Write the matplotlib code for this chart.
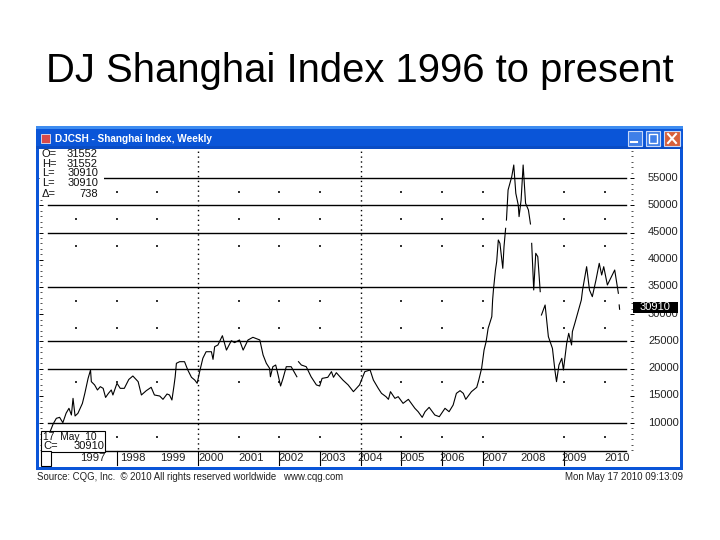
import numpy as np
import matplotlib
matplotlib.use("Agg")
import matplotlib.pyplot as plt
from matplotlib.patches import Rectangle
from matplotlib.ticker import FixedLocator, MultipleLocator
from matplotlib.transforms import ScaledTranslation

plt.rcParams['font.family'] = ['Liberation Sans', 'DejaVu Sans']

nan = float('nan')
years = [1996.37,1996.44,1996.52,1996.60,1996.68,1996.76,1996.83,1996.89,1996.93,1996.98,
 1997.05,1997.16,1997.22,1997.30,1997.36,1997.38,1997.46,1997.53,1997.60,1997.67,1997.73,1997.80,1997.87,1997.91,
 1998.01,1998.09,1998.19,1998.30,1998.40,1998.53,1998.61,1998.73,1998.85,1998.93,
 1999.06,1999.14,1999.24,1999.30,1999.36,1999.41,1999.44,1999.47,1999.55,1999.67,1999.75,1999.84,1999.92,1999.98,
 2000.04,2000.12,2000.20,2000.33,2000.37,2000.41,2000.49,2000.60,2000.70,2000.82,2000.90,
 2001.02,2001.11,2001.23,2001.35,2001.52,2001.60,2001.68,2001.76,2001.78,2001.84,2001.91,2001.97,
 2002.03,2002.09,2002.17,2002.29,2002.43,2002.45,2002.47,2002.54,2002.66,2002.78,2002.91,2002.99,
 2003.05,2003.19,2003.28,2003.33,2003.40,2003.56,2003.69,2003.82,2003.97,
 2004.10,2004.23,2004.31,2004.43,2004.51,2004.62,2004.68,2004.73,2004.84,2004.92,
 2005.04,2005.17,2005.33,2005.41,2005.51,2005.58,2005.68,2005.82,2005.93,
 2006.07,2006.17,2006.27,2006.35,2006.44,2006.52,2006.58,2006.72,2006.85,2006.90,2006.97,
 2007.03,2007.08,2007.13,2007.22,2007.24,2007.26,2007.31,2007.34,2007.38,2007.42,2007.49,2007.52,2007.56,2007.57,
 2007.58,2007.62,2007.71,2007.76,2007.81,2007.87,2007.89,2007.94,2007.99,
 2008.05,2008.12,2008.17,2008.185,2008.20,2008.25,2008.30,2008.35,2008.41,2008.425,2008.44,2008.53,2008.61,2008.71,2008.77,2008.81,2008.87,2008.94,2008.98,
 2009.06,2009.11,2009.18,2009.20,2009.26,2009.34,2009.42,2009.45,2009.55,2009.62,2009.69,2009.78,2009.86,2009.92,2009.97,
 2010.06,2010.24,2010.33,2010.34,2010.35,2010.36]
values = [8470,9800,10860,11040,10060,11800,12700,11470,14530,11290,
 11780,13600,15450,18200,19740,17600,17000,16070,16680,16370,14700,15450,16070,15150,
 17300,16370,16370,18000,18640,17600,15150,15940,16560,15150,
 14960,14350,15330,15150,14230,16800,18500,20970,21270,21270,19740,18400,17900,17300,
 19400,21900,23100,23100,21700,24030,24340,26050,23400,25130,24770,
 25260,23400,25260,25750,25260,22500,20970,20050,18500,20350,20660,18800,
 16800,18200,20350,20350,18500,nan,21270,20660,20350,18500,17000,16800,
 18200,18400,19440,18400,19250,17900,17000,15760,17000,
 19440,19740,17900,16370,15450,14840,14350,15760,14530,14840,
 13610,14350,12700,12080,11040,12080,12880,11470,11160,
 12700,12080,13300,15450,15940,15450,14350,15760,16560,17900,20050,
 23420,24950,27400,29550,32600,34450,38120,39650,43640,43020,38430,42410,45780,nan,
 47300,52830,55280,57420,52210,50070,47930,50990,57420,
 50380,49150,46580,nan,43020,34450,41190,40570,34140,nan,29850,31690,25870,23720,19740,17600,20660,21890,19740,
 24640,26480,24340,26790,28320,30460,32610,34450,38730,34450,33220,36290,39350,37200,38730,
 35370,38120,33840,nan,31700,30910]

grid_levels = [10000, 20000, 25000, 35000, 45000, 50000, 55000]
dot_levels = [7500, 17500, 27500, 32500, 42500, 47500, 52500]
dot_years = [1997, 1998, 1999, 2001, 2002, 2003, 2005, 2006, 2007, 2009, 2010]
dotted_years = [2000, 2004]
sep_years = [1998, 2000, 2002, 2003, 2004, 2005, 2006, 2007, 2009]
year_labels = ['1997','1998','1999','2000','2001','2002','2003','2004','2005','2006','2007','2008','2009','2010']
year_pos = [1997.42,1998.40,1999.38,2000.33,2001.31,2002.29,2003.33,2004.24,2005.27,2006.25,2007.30,2008.24,2009.25,2010.30]
right_ticks = [10000,15000,20000,25000,30000,35000,40000,45000,50000,55000]
last_price = 30910
header_names = ['O=','H=','L=','L=','Δ=']
header_vals = ['31552','31552','30910','30910','738']

W, H = 720, 540
fig = plt.figure(figsize=(7.2, 5.4), dpi=100, facecolor='white')

bg = fig.add_axes([0, 0, 1, 1], zorder=0)
bg.set_xlim(0, W); bg.set_ylim(H, 0); bg.axis('off')
blue = '#0A55D8'
bg.add_patch(Rectangle((36, 126), 647, 344, fc=blue, ec='none'))
bg.add_patch(Rectangle((36, 126), 647, 3, fc='#3E8CF0', ec='none'))
bg.add_patch(Rectangle((36, 146), 647, 3, fc='#0A4CC4', ec='none'))
bg.add_patch(Rectangle((39, 149), 641, 318, fc='white', ec='none'))
bg.add_patch(Rectangle((41, 134), 9, 9, fc='#D84A4A', ec='white', lw=0.5))
bg.text(55, 138.5, 'DJCSH - Shanghai Index, Weekly', color='white', fontsize=7.2,
        fontweight='bold', va='center', ha='left')
for x0, w, col in [(628, 14, '#3F7FE8'), (646, 14, '#3F7FE8'), (664, 16, '#D8603A')]:
    bg.add_patch(Rectangle((x0, 131), w, 15, fc=col, ec='#C8D8F8', lw=0.8))
bg.plot([631, 637], [142, 142], color='white', lw=1.5)
bg.add_patch(Rectangle((649, 134), 8, 9, fc='none', ec='white', lw=1))
bg.plot([668, 676], [134, 143], color='white', lw=1.5)
bg.plot([668, 676], [143, 134], color='white', lw=1.5)

fig.text(360 / W, 1 - 71 / H, 'DJ Shanghai Index 1996 to present', fontsize=28.8,
         ha='center', va='center', color='black')
fig.text(37 / W, 1 - 477.5 / H, 'Source: CQG, Inc.  © 2010 All rights reserved worldwide   www.cqg.com',
         fontsize=6.9, ha='left', va='center', color='#222222')
fig.text(683 / W, 1 - 477.5 / H, 'Mon May 17 2010 09:13:09', fontsize=7,
         ha='right', va='center', color='#222222')

left, right, top, bottom = 41, 632, 150, 451
ax = fig.add_axes([left / W, 1 - bottom / H, (right - left) / W, (bottom - top) / H], zorder=1)
ax.patch.set_alpha(0)
ax.set_xlim(1996.143, 2010.665)
ax.set_ylim(4854, 60177)
for s in ax.spines.values():
    s.set_visible(False)

xform = ax.get_yaxis_transform()
gx0, gx1 = (48 - left) / (right - left), (626 - left) / (right - left)
for lv in grid_levels:
    ax.plot([gx0, gx1], [lv, lv], transform=xform, color='black', lw=1.0, zorder=1)
ax.plot([gx0, gx1], [4904, 4904], transform=xform, color='black', lw=1.0, zorder=1, clip_on=False)
for yr in dotted_years:
    ax.plot([yr, yr], [5200, 60100], color='black', lw=1, ls=(0, (1, 2.5)), zorder=1)
dx, dy = np.meshgrid(dot_years, dot_levels)
ax.scatter(dx.ravel(), dy.ravel(), s=1.6, color='#333333', marker='s', linewidths=0, zorder=1)

ax.plot(years, values, color='black', lw=0.8, zorder=3)

ax.yaxis.tick_right()
ax.yaxis.set_major_locator(FixedLocator(right_ticks))
ax.yaxis.set_minor_locator(MultipleLocator(1000))
ax.set_yticklabels([str(v) for v in right_ticks], fontsize=8, color='#222222')
ax.tick_params(axis='y', which='major', length=3, width=0.7, pad=10, direction='inout', color='black')
ax.tick_params(axis='y', which='minor', length=2, width=0.6, direction='inout', color='#333333')
ax.tick_params(axis='y', which='both', left=True, right=True)
ax.set_xticks([])
shift = ScaledTranslation(0, 1.5 / 100, fig.dpi_scale_trans)
for lab in ax.get_yticklabels():
    lab.set_transform(lab.get_transform() + shift)

trans = ax.get_xaxis_transform()
for yr in sep_years:
    ax.plot([yr, yr], [0, -0.045], transform=trans, color='black', lw=0.8, clip_on=False, zorder=2)
for p, lab in zip(year_pos, year_labels):
    ax.text(p, -0.024, lab, transform=trans, fontsize=8.2, ha='center', va='center', color='#222222')

fg = fig.add_axes([0, 0, 1, 1], zorder=2)
fg.set_xlim(0, W); fg.set_ylim(H, 0); fg.axis('off'); fg.patch.set_alpha(0)
fg.add_patch(Rectangle((40, 150), 64, 48, fc='white', ec='none', zorder=1))
for yy, n, v in zip([154, 164, 173, 183, 194], header_names, header_vals):
    fg.text(42, yy, n, fontsize=8, ha='left', va='center', color='#111111', zorder=2)
    fg.text(98, yy, v, fontsize=8, ha='right', va='center', color='#111111', zorder=2)
fg.add_patch(Rectangle((41, 431), 64, 21, fc='white', ec='black', lw=0.8, zorder=1))
fg.text(43, 436.5, '17  May  10', fontsize=7.4, ha='left', va='center', color='#111111', zorder=2)
fg.text(43, 446, 'C=', fontsize=8, ha='left', va='center', color='#111111', zorder=2)
fg.text(104, 446, str(last_price), fontsize=8, ha='right', va='center', color='#111111', zorder=2)
fg.add_patch(Rectangle((41, 451), 10, 15, fc='white', ec='black', lw=0.8, zorder=1))
fg.add_patch(Rectangle((633, 302), 45, 11, fc='black', ec='none', zorder=1))
fg.text(655.5, 307.5, str(last_price), fontsize=8, color='white', ha='center', va='center', zorder=2)

fig.savefig('out.png', dpi=100)
